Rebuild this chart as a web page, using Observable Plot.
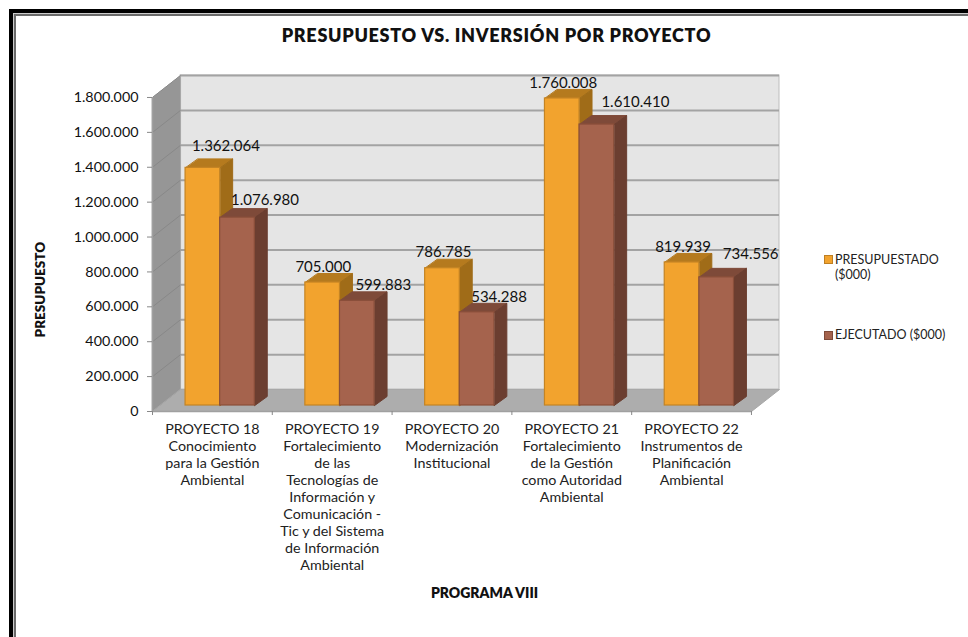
<!DOCTYPE html>
<html><head><meta charset="utf-8">
<script src="https://cdn.jsdelivr.net/npm/d3@7"></script>
<script src="https://cdn.jsdelivr.net/npm/@observablehq/plot@0.6"></script>
<style>
html,body{margin:0;padding:0;background:#fff}
#page{position:relative;width:968px;height:637px;overflow:hidden;font-family:Lato,sans-serif;color:#111}
#frame1{position:absolute;left:9px;top:9px;right:-10px;bottom:-10px;border-left:4px solid #000;border-top:4px solid #000}
#frame2{position:absolute;left:0;top:0;right:0;bottom:0;border-left:1px solid #ccc;border-top:1px solid #ccc}
#frame3{position:absolute;left:0;top:0;right:0;bottom:0;border-left:2px solid #6a6a6a;border-top:2px solid #6a6a6a}
#chart{position:absolute;left:0;top:0}
h1{position:absolute;left:0;width:993px;top:24px;margin:0;text-align:center;font:800 18px Lato,sans-serif;letter-spacing:.7px;color:#111}
.lg{position:absolute;font-size:12.5px;line-height:15px;color:#222}
.sw{position:absolute;width:9px;height:9px;box-sizing:border-box;border:1px solid}
</style></head><body>
<div id="page">
<div id="frame1"><div id="frame2"><div id="frame3"></div></div></div>
<div id="chart"></div>
<h1>PRESUPUESTO VS. INVERSIÓN POR PROYECTO</h1>
<div class="sw" style="left:824px;top:255px;background:#F2A32E;border-color:#BE7F22"></div>
<div class="lg" style="left:835px;top:252px">PRESUPUESTADO<br>($000)</div>
<div class="sw" style="left:824px;top:331px;background:#A5634D;border-color:#7E4A39"></div>
<div class="lg" style="left:835px;top:327px">EJECUTADO ($000)</div>
</div>
<script>
const categories = [
  "PROYECTO 18\nConocimiento\npara la Gestión\nAmbiental",
  "PROYECTO 19\nFortalecimiento\nde las\nTecnologías de\nInformación y\nComunicación -\nTic y del Sistema\nde Información\nAmbiental",
  "PROYECTO 20\nModernización\nInstitucional",
  "PROYECTO 21\nFortalecimiento\nde la Gestión\ncomo Autoridad\nAmbiental",
  "PROYECTO 22\nInstrumentos de\nPlanificación\nAmbiental"
];
const presupuestado = [1362064, 705000, 786785, 1760008, 819939];
const ejecutado = [1076980, 599883, 534288, 1610410, 734556];
const yTicks = [0,200000,400000,600000,800000,1000000,1200000,1400000,1600000,1800000];

// layout, in data units of the two scales
const wallDX = 0.234, wallDY = 126000, yMax = 1800000;
const barStart = 0.276, barW = 0.289, barDX = 0.104, barDY = 51600, barBase = 34400;
// label nudges in pixels from the top centre of each bar's front face
const nudgeP = [[23,-22],[0.6,-15],[1,-16],[1,-15],[1,-15]];
const nudgeE = [[27.5,-17],[26,-16],[22,-15],[38.5,-22],[34,-23]];

const fmt = v => d3.format(",")(v).replace(/,/g, ".");
const idx = categories.map((_, i) => i);

function series(values, slot) {
  return values.map((v, i) => {
    const x1 = i + barStart + slot * barW, x2 = x1 + barW, top = barBase + v;
    return {i, v, x1, x2, y1: barBase, y2: top};
  });
}
const poly = (rows, f) => rows.flatMap(b => f(b).map(([x, y]) => ({id: b.i, x, y})));
const topFace = b => [[b.x1,b.y2],[b.x2,b.y2],[b.x2+barDX,b.y2+barDY],[b.x1+barDX,b.y2+barDY]];
const sideFace = b => [[b.x2,b.y1],[b.x2+barDX,b.y1+barDY],[b.x2+barDX,b.y2+barDY],[b.x2,b.y2]];
const P = series(presupuestado, 0), E = series(ejecutado, 1);

function barMarks(rows, front, edge, side, topc) {
  return [
    Plot.line(poly(rows, topFace), {x:"x", y:"y", z:"id", fill:topc, stroke:topc, strokeWidth:1, curve:"linear-closed"}),
    Plot.line(poly(rows, sideFace), {x:"x", y:"y", z:"id", fill:side, stroke:side, strokeWidth:1, curve:"linear-closed"}),
    Plot.rect(rows, {x1:"x1", x2:"x2", y1:"y1", y2:"y2", fill:front, stroke:edge, strokeWidth:1.2})
  ];
}
function labelMarks(rows, nudges) {
  return rows.map((b, k) => Plot.text([b], {
    x: d => (d.x1 + d.x2) / 2, y: "y2", text: d => fmt(d.v),
    dx: nudges[k][0], dy: nudges[k][1], fontSize: 15, fill: "#111", textAnchor: "middle"
  }));
}

const leftWall = [[0,0],[wallDX,wallDY],[wallDX,yMax+wallDY],[0,yMax]].map(([x,y]) => ({x,y}));
const floor = [[0,0],[5,0],[5+wallDX,wallDY],[wallDX,wallDY]].map(([x,y]) => ({x,y}));
const n = categories.length;

const plot = Plot.plot({
  width: 968, height: 637,
  marginLeft: 152, marginRight: 968 - 779, marginTop: 75, marginBottom: 637 - 411,
  style: {background: "transparent", fontFamily: "Lato, sans-serif", overflow: "visible"},
  x: {domain: [0, 5 + wallDX], label: null, axis: null},
  y: {domain: [0, yMax + wallDY], label: null, axis: null},
  marks: [
    Plot.rect([0], {x1: wallDX, x2: n + wallDX, y1: wallDY, y2: yMax + wallDY, fill: "#E5E5E5", stroke: "#BDBDBD", strokeWidth: 1}),
    Plot.ruleY(yTicks.slice(1), {y: d => d + wallDY, x1: wallDX, x2: n + wallDX, stroke: "#A3A3A3", strokeWidth: 2}),
    Plot.line(leftWall, {x:"x", y:"y", fill:"#969696", stroke:"#A8A8A8", strokeWidth:1, curve:"linear-closed"}),
    Plot.link(yTicks, {x1: 0, y1: d => d, x2: wallDX, y2: d => d + wallDY, stroke: "#888", strokeWidth: 1}),
    Plot.line(floor, {x:"x", y:"y", fill:"#ADADAD", stroke:"#A8A8A8", strokeWidth:1, curve:"linear-closed"}),
    Plot.ruleX([0], {y1: 0, y2: yMax, stroke: "#A0A0A0", strokeWidth: 1.5}),
    Plot.ruleY([0], {x1: 0, x2: n, stroke: "#A0A0A0", strokeWidth: 1.5}),
    ...barMarks(P, "#F2A32E", "#C48424", "#A06C18", "#B57A1E"),
    ...barMarks(E, "#A5634D", "#8A4F3A", "#6B3E30", "#7E4A39"),
    ...labelMarks(P, nudgeP),
    ...labelMarks(E, nudgeE),
    Plot.axisY({ticks: yTicks, tickFormat: fmt, anchor: "left", tickSize: 5, tickPadding: 9,
      stroke: "#888", fontSize: 14.3, fill: "#111", label: null}),
    Plot.ruleX(d3.range(n + 1), {x: d => d, y1: 0, y2: -23000, stroke: "#888", strokeWidth: 1}),
    Plot.text(idx, {x: d => d + 0.5, y: 0, dy: 10, text: d => categories[d], lineAnchor: "top",
      lineHeight: 1.19, fontSize: 14.3, fill: "#222"}),
    Plot.text(["PRESUPUESTO"], {x: 0, y: 699000, rotate: -90, dx: -112, fontSize: 13.5, fontWeight: 800, fill: "#111"}),
    Plot.text(["PROGRAMA VIII"], {frameAnchor: "bottom", dx: 18.5, dy: 186, fontSize: 14, fontWeight: 800, fill: "#111"})
  ]
});
document.getElementById("chart").appendChild(plot);
</script>
</body></html>
